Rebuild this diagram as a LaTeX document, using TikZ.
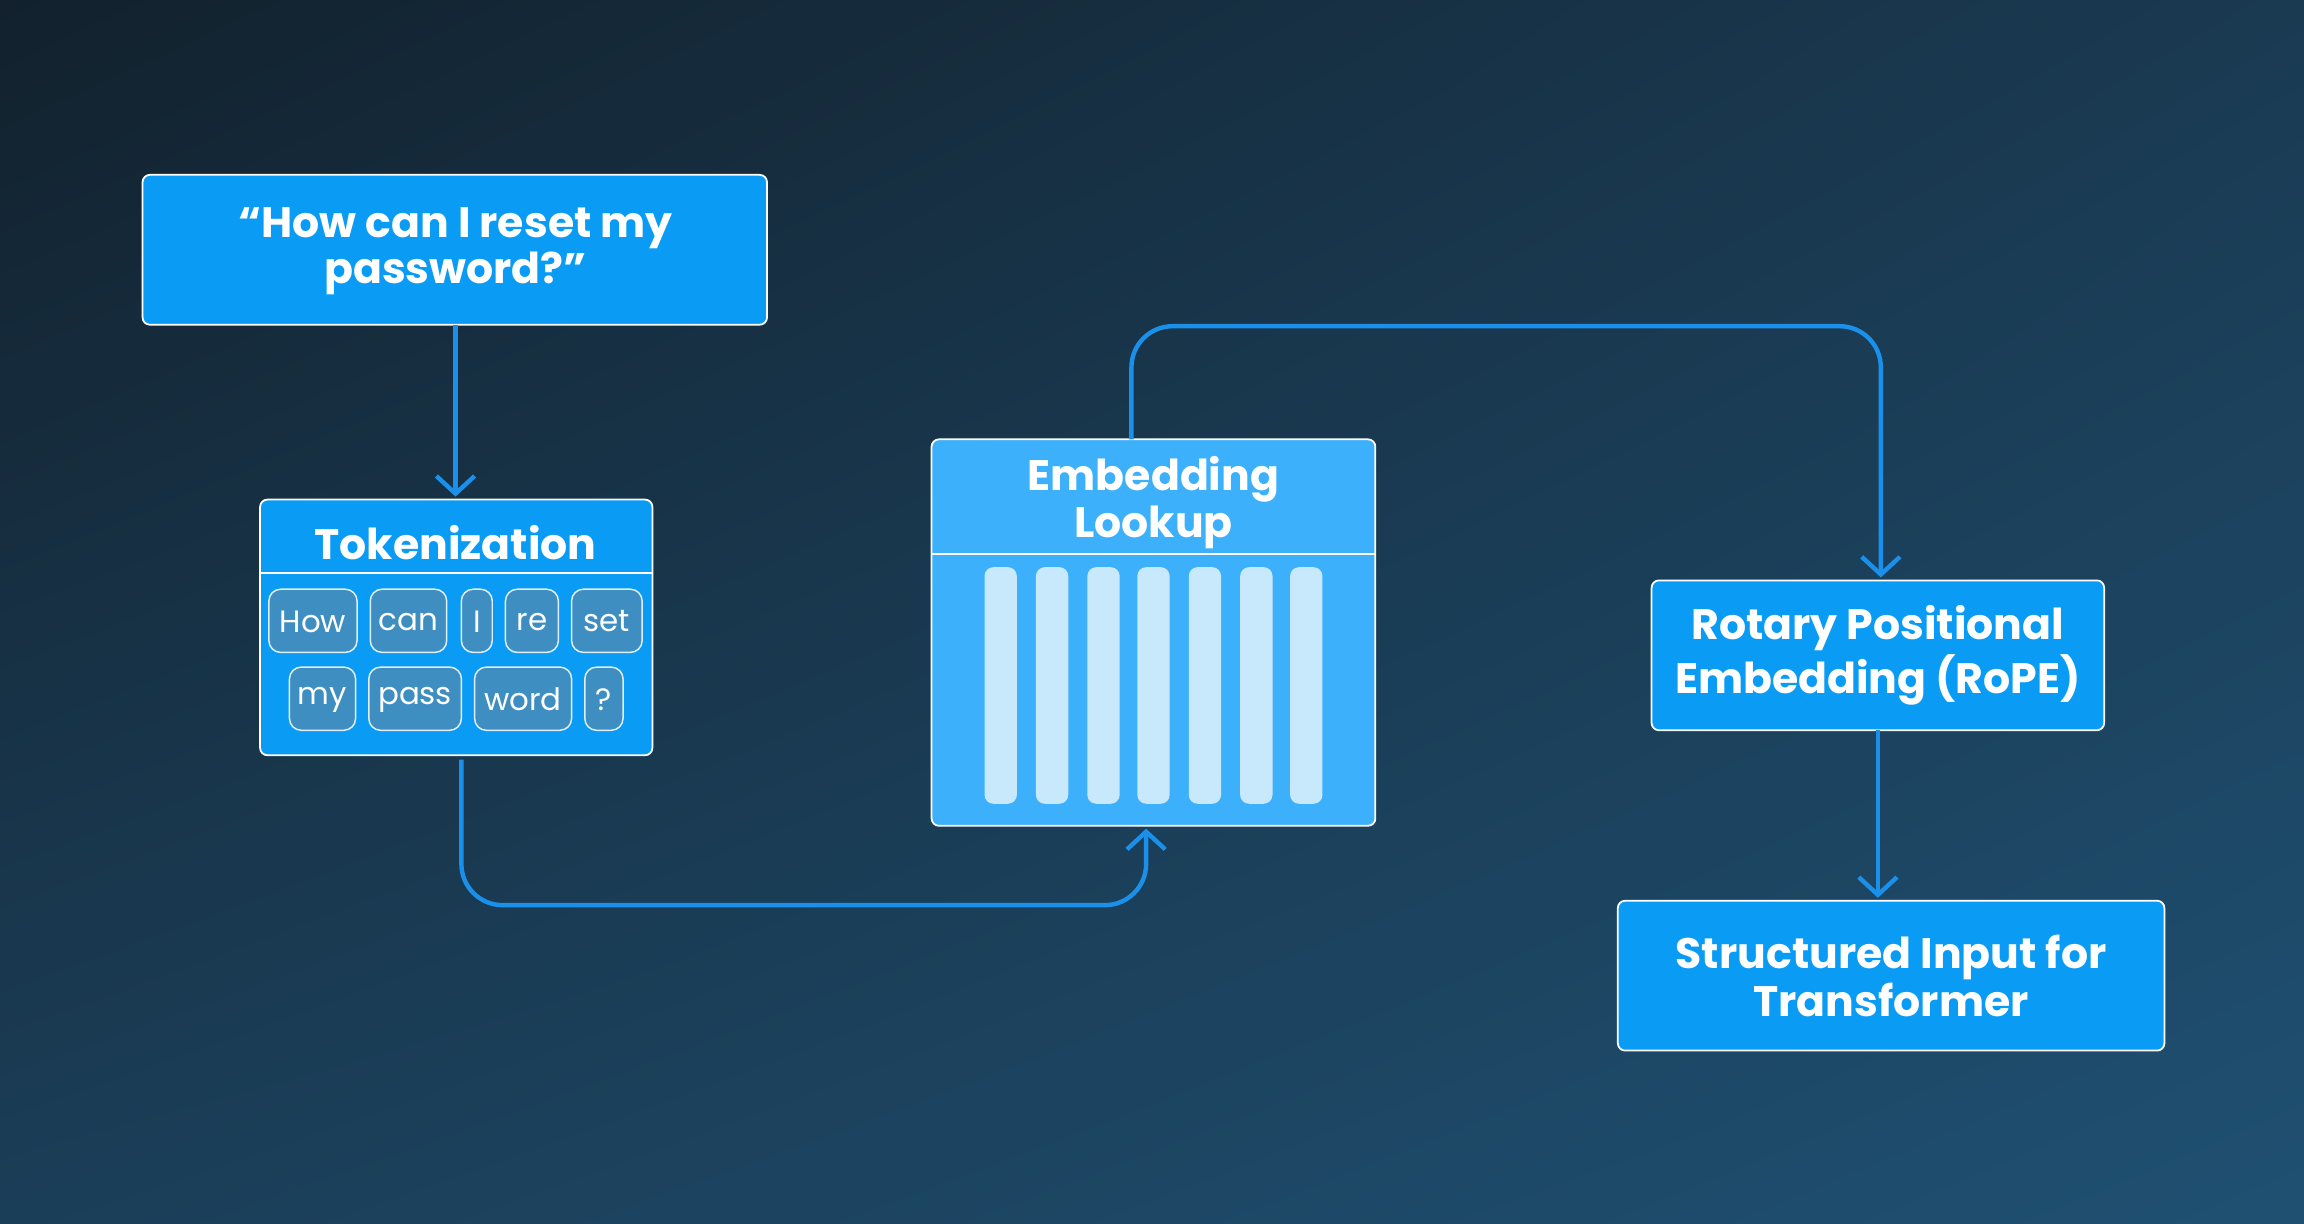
\documentclass[tikz,border=0pt]{standalone}
\usepackage{fontspec}
\setmainfont{Poppins}
\usetikzlibrary{arrows.meta,shadings}
\definecolor{boxblue}{HTML}{0A9CF5}
\definecolor{lightblue}{HTML}{3CB0FA}
\definecolor{barc}{HTML}{C8E8FC}
\definecolor{tokc}{HTML}{3F8EC2}
\definecolor{linec}{HTML}{1A90EA}
\definecolor{bgA}{HTML}{12212D}
\definecolor{bgB}{HTML}{1A3A52}
\definecolor{bgC}{HTML}{1B3E58}
\definecolor{bgD}{HTML}{1F5072}
\tikzset{
  x=0.5pt,y=-0.5pt,
  bx/.style={draw=white,line width=0.6pt,rounded corners=2.5pt,fill=boxblue},
  lbl/.style={text=white,font=\fontsize{14.5}{14}\selectfont\bfseries,align=center},
  tok/.style={draw=white!85!tokc,line width=0.5pt,rounded corners=4pt,fill=tokc},
  toktxt/.style={text=white,font=\fontsize{10.5}{12}\selectfont},
  conn/.style={draw=linec,line width=1.5pt,rounded corners=14pt},
  arr/.style={-{Straight Barb[length=6pt,width=13pt,line width=1.5pt]}}
}
\begin{document}
\begin{tikzpicture}
\useasboundingbox (0,0) rectangle (1568,833);
\shade[upper left=bgA,upper right=bgB,lower left=bgC,lower right=bgD] (0,0) rectangle (1568,833);
% input
\draw[bx] (97,119) rectangle (522,221);
\node[lbl] (inp) at (310,171) {“How can I reset my\\password?”};
% tokenization
\draw[bx] (177,340) rectangle (444,514);
\draw[white,line width=0.6pt] (177,390) -- (444,390);
\node[lbl] (tokt) at (310,369) {Tokenization};
\foreach \a/\b/\t/\y in {183/243/How/401,252/304/can/401,314/335/I/401,344/380/re/401,389/437/set/401,197/242/my/454,251/314/pass/454,323/389/word/454,398/424/?/454}{
  \draw[tok] (\a,\y) rectangle (\b,\y+43);
  \node[toktxt] at ({(\a+\b)/2},\y+22) {\t};
}
% embedding
\draw[bx,fill=lightblue] (634,299) rectangle (936,562);
\draw[white,line width=0.6pt] (634,377) -- (936,377);
\node[lbl] (embt) at (785,342) {Embedding\\Lookup};
\foreach \x in {670,705,740,774,809,844,878}{
  \fill[barc,rounded corners=3pt] (\x,386) rectangle (\x+22,547);
}
% rope
\draw[bx] (1124,395) rectangle (1432,497);
\node[lbl] (rope) at (1278,446) {Rotary Positional\\Embedding (RoPE)};
% output
\draw[bx] (1101,613) rectangle (1473,715);
\node[lbl] (outp) at (1287,664) {Structured Input for\\Transformer};
% connectors
\coordinate (a1) at (310,221); \coordinate (a2) at (310,338);
\draw[conn,arr] (a1) -- (a2);
\coordinate (b1) at (314,517); \coordinate (b2) at (780,564);
\draw[conn,arr] (b1) -- (314,616) -- (780,616) -- (b2);
\coordinate (c1) at (770,299); \coordinate (c2) at (1280,393);
\draw[conn,arr] (c1) -- (770,222) -- (1280,222) -- (c2);
\coordinate (d1) at (1278,497); \coordinate (d2) at (1278,611);
\draw[conn,arr] (d1) -- (d2);
\end{tikzpicture}
\end{document}
